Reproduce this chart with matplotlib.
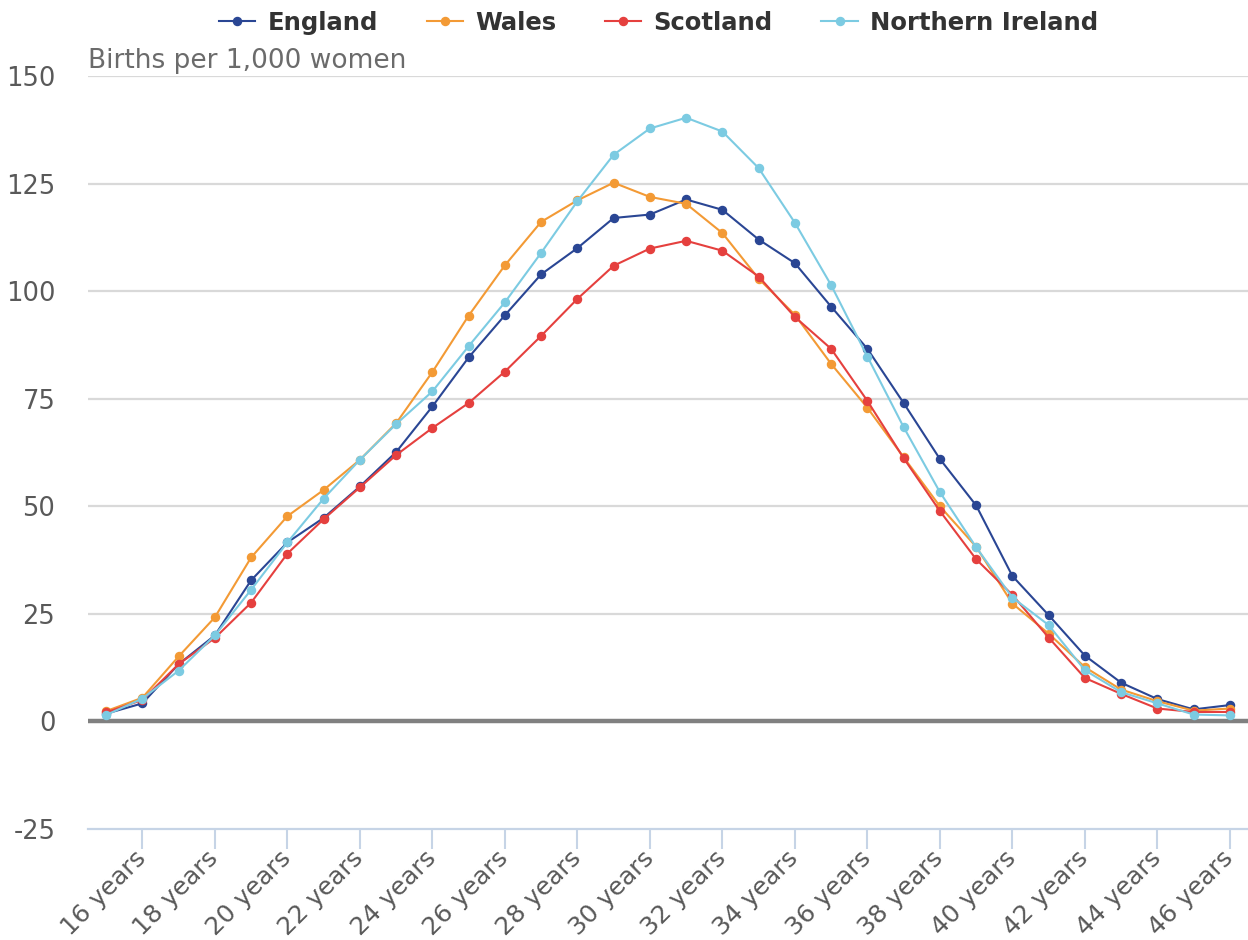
import numpy as np
import matplotlib
matplotlib.use("Agg")
import matplotlib.pyplot as plt

# ages 15..46
ages = list(range(15, 47))
england = [1.8, 4.2, 13.3, 20.0, 32.8, 41.6, 47.3, 54.6, 62.6, 73.2, 84.6, 94.4, 103.9, 110.0, 117.0, 117.8,
           121.3, 118.9, 112.0, 106.5, 96.4, 86.6, 74.0, 61.0, 50.2, 33.8, 24.7, 15.3, 9.0, 5.2, 2.8, 3.8]
wales = [2.4, 5.5, 15.1, 24.2, 38.1, 47.7, 53.8, 60.8, 69.3, 81.2, 94.3, 106.0, 116.1, 121.1, 125.2, 121.9,
         120.3, 113.5, 102.9, 94.5, 83.1, 72.9, 61.4, 50.0, 40.6, 27.4, 20.4, 12.6, 7.4, 4.7, 2.5, 3.0]
scotland = [2.1, 5.0, 13.3, 19.4, 27.6, 39.0, 47.0, 54.4, 61.9, 68.2, 74.0, 81.3, 89.6, 98.2, 105.9, 109.9,
            111.7, 109.4, 103.4, 94.0, 86.6, 74.5, 61.2, 48.9, 37.7, 29.4, 19.5, 10.1, 6.4, 3.0, 2.2, 2.2]
n_ireland = [1.5, 5.3, 11.8, 20.0, 30.6, 41.6, 51.8, 60.8, 69.1, 76.7, 87.2, 97.4, 108.9, 120.9, 131.7, 137.8,
             140.3, 137.1, 128.6, 115.9, 101.4, 84.8, 68.4, 53.3, 40.5, 28.8, 22.4, 11.9, 6.8, 4.2, 1.6, 1.4]

names = ['England', 'Wales', 'Scotland', 'Northern Ireland']
colors = ['#2a4694', '#f39a35', '#e5403e', '#7ccbe2']
y_ticks = [-25, 0, 25, 50, 75, 100, 125, 150]
x_ticks = list(range(16, 47, 2))

plt.rcParams['font.family'] = ['DejaVu Sans']

fig = plt.figure(figsize=(12.48, 9.4), dpi=100)
ax = fig.add_axes([88 / 1248, 1 - 829 / 940, 1 - 88 / 1248, (829 - 76) / 940])

for yv in y_ticks[2:]:
    ax.axhline(yv, color='#d9d9d9', lw=1.6, zorder=1)
ax.axhline(0, color='#808080', lw=3.2, zorder=2)

for name, vals, c in zip(names, [england, wales, scotland, n_ireland], colors):
    ax.plot(ages, vals, color=c, lw=1.5, marker='o', markersize=5.8, label=name, zorder=3, clip_on=False)

ax.set_xlim(14.5, 46.5)
ax.set_ylim(-25, 150)
ax.set_yticks(y_ticks)
ax.set_yticklabels([str(v) for v in y_ticks], fontsize=18.5, color='#595959')
ax.tick_params(axis='y', length=0, pad=23.5)

ax.set_xticks(x_ticks)
ax.set_xticklabels([f'{a} years' for a in x_ticks], fontsize=18, color='#595959',
                   rotation=45, ha='right', va='center', rotation_mode='anchor')
ax.tick_params(axis='x', length=14.5, width=1.5, color='#c6d4e6', pad=4)

for s in ['top', 'right', 'left']:
    ax.spines[s].set_visible(False)
ax.spines['bottom'].set_color('#c6d4e6')
ax.spines['bottom'].set_linewidth(1.6)

ax.text(0, 150.5, 'Births per 1,000 women', transform=ax.get_yaxis_transform(),
        fontsize=19, color='#6b6b6b', ha='left', va='bottom')

leg = fig.legend(loc='center', bbox_to_anchor=(658.5 / 1248, 1 - 23 / 940), ncol=4,
                 frameon=False, handlelength=1.5, columnspacing=2.0, handletextpad=0.5,
                 prop={'weight': 'bold', 'size': 17.5})
for t in leg.get_texts():
    t.set_color('#333333')

fig.savefig('out.png', dpi=100)
